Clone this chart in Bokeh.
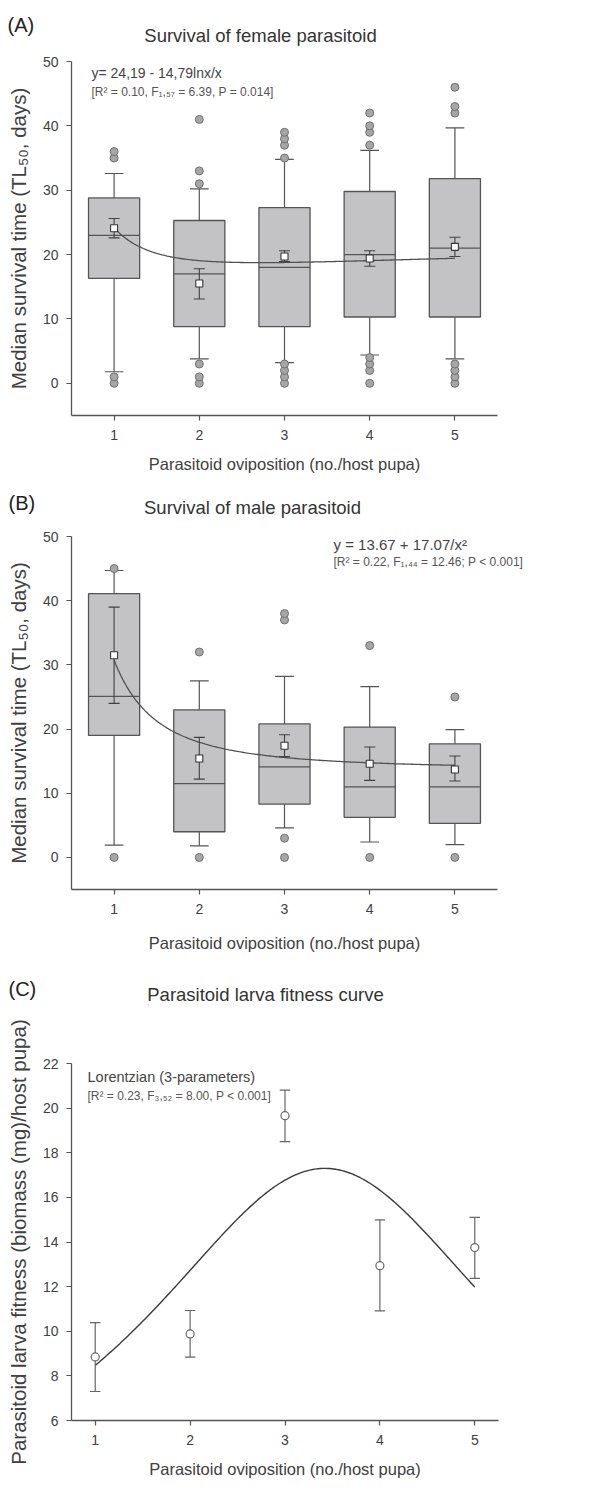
import numpy as np
from bokeh.plotting import figure
from bokeh.models import Label, Range1d, FixedTicker
from bokeh.layouts import column
from bokeh.embed import file_html
from bokeh.resources import INLINE

FONT = "Liberation Sans"
W = 608

groups = [1, 2, 3, 4, 5]

# ---------------- Panel A: female survival ----------------
a_q1 = [16.3, 8.8, 8.8, 10.3, 10.3]
a_q3 = [28.8, 25.3, 27.3, 29.8, 31.8]
a_med = [23.0, 17.0, 18.0, 20.0, 21.0]
a_wlo = [1.8, 3.8, 3.2, 4.4, 3.8]
a_whi = [32.6, 30.2, 34.8, 36.2, 39.7]
a_mean = [24.1, 15.5, 19.7, 19.4, 21.2]
a_se_lo = [22.6, 13.1, 18.9, 18.2, 19.7]
a_se_hi = [25.6, 17.8, 20.6, 20.6, 22.7]
a_out = [[0, 1, 35, 36], [0, 1, 3, 31, 33, 41], [0, 1, 2, 3, 35, 37, 38, 39],
         [0, 2, 3, 4, 37, 39, 40, 42], [0, 1, 2, 3, 42, 43, 46]]
a_fit_c0, a_fit_c1 = 24.19, -14.79          # y = c0 + c1 * ln(x)/x

# ---------------- Panel B: male survival ----------------
b_q1 = [19.0, 4.0, 8.3, 6.25, 5.3]
b_q3 = [41.1, 23.0, 20.8, 20.3, 17.7]
b_med = [25.1, 11.5, 14.1, 11.0, 11.0]
b_wlo = [1.9, 1.8, 4.6, 2.4, 2.0]
b_whi = [44.7, 27.5, 28.2, 26.6, 19.9]
b_mean = [31.5, 15.4, 17.4, 14.6, 13.7]
b_se_lo = [24.0, 12.2, 15.7, 12.0, 11.9]
b_se_hi = [39.0, 18.7, 19.1, 17.2, 15.8]
b_out = [[0, 45], [0, 32], [0, 3, 37, 38], [0, 33], [0, 25]]
b_fit_c0, b_fit_c1 = 13.67, 17.07           # y = c0 + c1 / x^2

# ---------------- Panel C: larva fitness ----------------
c_mean = [8.85, 9.88, 19.66, 12.94, 13.75]
c_lo = [7.30, 8.84, 18.50, 10.91, 12.37]
c_hi = [10.39, 10.93, 20.81, 14.99, 15.10]
c_fit_a, c_fit_x0, c_fit_b = 17.3, 3.42, 2.37   # Lorentzian a/(1+((x-x0)/b)^2)

surv_ticks = [0, 10, 20, 30, 40, 50]
fit_ticks = [6, 8, 10, 12, 14, 16, 18, 20, 22]

AXC = "#555555"
TXT = "#404040"
XLAB_SIZE = "16.5px"


def style_axes(p, xlab, ylab):
    for ax in (p.xaxis[0], p.yaxis[0]):
        ax.axis_line_color = AXC
        ax.axis_line_width = 1.3
        ax.major_tick_line_color = AXC
        ax.major_tick_line_width = 1.2
        ax.major_tick_out = 5
        ax.major_tick_in = 0
        ax.minor_tick_line_color = None
        ax.major_label_text_font = FONT
        ax.major_label_text_font_size = "14px"
        ax.major_label_text_color = TXT
        ax.axis_label_text_font = FONT
        ax.axis_label_text_font_style = "normal"
        ax.axis_label_text_color = TXT
    if xlab:
        p.xaxis[0].axis_label = xlab
    p.xaxis[0].axis_label_text_font_size = XLAB_SIZE
    p.xaxis[0].major_label_standoff = 9
    p.xaxis[0].axis_label_standoff = 12
    p.yaxis[0].axis_label = ylab
    p.yaxis[0].axis_label_text_font_size = "20.5px"
    p.yaxis[0].major_label_standoff = 8
    p.yaxis[0].axis_label_standoff = 10
    p.xgrid.visible = False
    p.ygrid.visible = False
    p.outline_line_color = None


class Panel:
    """A plot figure whose frame sits at given page pixel positions."""

    def __init__(self, fig_top, fig_h, fx0, fx1, fy0, fy1, xr, yr):
        self.fig_top = fig_top
        self.fx0, self.fx1, self.fy0, self.fy1 = fx0, fx1, fy0, fy1
        self.xr, self.yr = xr, yr
        self.p = figure(width=W, height=fig_h, output_backend="svg", toolbar_location=None,
                        x_range=Range1d(*xr), y_range=Range1d(*yr),
                        min_border_left=fx0, min_border_right=W - fx1,
                        min_border_top=fy0 - fig_top,
                        min_border_bottom=fig_top + fig_h - fy1,
                        frame_align=False)
        self.p.background_fill_color = "white"
        self.p.border_fill_color = "white"

    def text(self, px, py, text, size, color=TXT, align="left"):
        x = self.xr[0] + (px - self.fx0) / (self.fx1 - self.fx0) * (self.xr[1] - self.xr[0])
        y = self.yr[1] - (py - self.fy0) / (self.fy1 - self.fy0) * (self.yr[1] - self.yr[0])
        self.p.add_layout(Label(x=x, y=y, text=text, text_font=FONT, text_font_size=size,
                                text_color=color, text_align=align, text_baseline="middle"))


def strip(fig_top, h, items):
    s = figure(width=W, height=h, output_backend="svg", toolbar_location=None,
               x_range=Range1d(0, W), y_range=Range1d(h, 0),
               x_axis_type=None, y_axis_type=None,
               min_border_left=0, min_border_right=0, min_border_top=0, min_border_bottom=0,
               frame_align=False)
    s.outline_line_color = None
    s.xgrid.visible = False
    s.ygrid.visible = False
    s.background_fill_color = "white"
    s.border_fill_color = "white"
    for px, py, text, size, color, align in items:
        s.add_layout(Label(x=px, y=py - fig_top, text=text, text_font=FONT,
                           text_font_size=size, text_color=color, text_align=align,
                           text_baseline="middle"))
    return s


def box_panel(p, q1, q3, med, wlo, whi, mean, se_lo, se_hi, outs, fy):
    g = np.array(groups, dtype=float)
    hw = 0.3
    cap = 0.11
    scap = 0.065
    p.segment(x0=g, x1=g, y0=q3, y1=whi, line_color=AXC, line_width=1.2)
    p.segment(x0=g, x1=g, y0=wlo, y1=q1, line_color=AXC, line_width=1.2)
    p.segment(x0=g - cap, x1=g + cap, y0=whi, y1=whi, line_color=AXC, line_width=1.2)
    p.segment(x0=g - cap, x1=g + cap, y0=wlo, y1=wlo, line_color=AXC, line_width=1.2)
    p.vbar(x=g, width=2 * hw, bottom=q1, top=q3, fill_color="#c3c3c5",
           line_color=AXC, line_width=1.3)
    p.segment(x0=g - hw, x1=g + hw, y0=med, y1=med, line_color=AXC, line_width=1.3)
    ox = [groups[i] for i in range(len(groups)) for _ in outs[i]]
    oy = [v for lst in outs for v in lst]
    p.scatter(x=ox, y=oy, marker="circle", size=8, fill_color="#a6a6a6",
              line_color="#707070", line_width=1)
    xs = np.linspace(1, 5, 200)
    p.line(xs, fy(xs), line_color="#505050", line_width=1.3)
    p.segment(x0=g, x1=g, y0=se_lo, y1=se_hi, line_color="#404040", line_width=1.1)
    p.segment(x0=g - scap, x1=g + scap, y0=se_lo, y1=se_lo, line_color="#404040", line_width=1.1)
    p.segment(x0=g - scap, x1=g + scap, y0=se_hi, y1=se_hi, line_color="#404040", line_width=1.1)
    p.scatter(x=g, y=mean, marker="square", size=7, fill_color="white",
              line_color="#333333", line_width=1.1)


XLAB = "Parasitoid oviposition (no./host pupa)"
YLAB = "Median survival time (TL\u2085\u2080, days)"
TITLE_C = "#333333"
LET_C = "#222222"

# ---------- A ----------
sA = strip(0, 52, [(7, 24, "(A)", "20px", LET_C, "left"),
                   (260, 35, "Survival of female parasitoid", "18.5px", TITLE_C, "center")])
A = Panel(52, 436, 71, 497, 61, 415, (0.5, 5.5), (-5, 50))
box_panel(A.p, a_q1, a_q3, a_med, a_wlo, a_whi, a_mean, a_se_lo, a_se_hi, a_out,
          lambda x: a_fit_c0 + a_fit_c1 * np.log(x) / x)
style_axes(A.p, XLAB, YLAB)
A.p.xaxis[0].ticker = FixedTicker(ticks=groups)
A.p.yaxis[0].ticker = FixedTicker(ticks=surv_ticks)
A.text(91, 72, "y= 24,19 - 14,79lnx/x", "14px", "#444444")
A.text(91, 91, "[R\u00b2 = 0.10, F\u2081,\u2085\u2087 = 6.39, P = 0.014]", "12px", "#555555")

# ---------- B ----------
sB = strip(488, 40, [(8, 502, "(B)", "20px", LET_C, "left"),
                     (252, 507, "Survival of male parasitoid", "18.5px", TITLE_C, "center")])
xrB = (0.5, 5.5 + 33 / 85.2)
B = Panel(528, 402, 71, 530, 536, 889, xrB, (-5, 50))
box_panel(B.p, b_q1, b_q3, b_med, b_wlo, b_whi, b_mean, b_se_lo, b_se_hi, b_out,
          lambda x: b_fit_c0 + b_fit_c1 / x ** 2)
style_axes(B.p, None, YLAB)
B.p.xaxis[0].bounds = (0.5, 5.5)
B.p.xaxis[0].ticker = FixedTicker(ticks=groups)
B.p.yaxis[0].ticker = FixedTicker(ticks=surv_ticks)
B.text(333, 544, "y = 13.67 + 17.07/x\u00b2", "15px", "#444444")
B.text(333, 561, "[R\u00b2 = 0.22, F\u2081,\u2084\u2084 = 12.46; P < 0.001]", "12px", "#555555")
sBx = strip(930, 35, [(284, 942, XLAB, XLAB_SIZE, TXT, "center")])

# ---------- C ----------
sC = strip(965, 55, [(8, 988, "(C)", "20px", LET_C, "left"),
                     (265, 994, "Parasitoid larva fitness curve", "18.5px", TITLE_C, "center")])
C = Panel(1020, 467, 71, 498, 1063, 1420, (0.75, 5.25), (6, 22))
pC = C.p
xs = np.linspace(1, 5, 200)
pC.line(xs, c_fit_a / (1 + ((xs - c_fit_x0) / c_fit_b) ** 2), line_color="#3a3a3a", line_width=1.4)
gC = np.array(groups, dtype=float)
ccap = 0.055
pC.segment(x0=gC, x1=gC, y0=c_lo, y1=c_hi, line_color="#666666", line_width=1.2)
pC.segment(x0=gC - ccap, x1=gC + ccap, y0=c_lo, y1=c_lo, line_color="#666666", line_width=1.2)
pC.segment(x0=gC - ccap, x1=gC + ccap, y0=c_hi, y1=c_hi, line_color="#666666", line_width=1.2)
pC.scatter(x=gC, y=c_mean, marker="circle", size=8, fill_color="white",
           line_color="#666666", line_width=1.2)
style_axes(pC, XLAB, "Parasitoid larva fitness (biomass (mg)/host pupa)")
pC.xaxis[0].ticker = FixedTicker(ticks=groups)
pC.yaxis[0].ticker = FixedTicker(ticks=fit_ticks)
C.text(87, 1076, "Lorentzian (3-parameters)", "14.5px", "#444444")
C.text(87, 1095, "[R\u00b2 = 0.23, F\u2083,\u2085\u2082 = 8.00, P < 0.001]", "12px", "#555555")

layout = column(sA, A.p, sB, B.p, sBx, sC, C.p, spacing=0)
open("out.html", "w").write(file_html(layout, INLINE))
